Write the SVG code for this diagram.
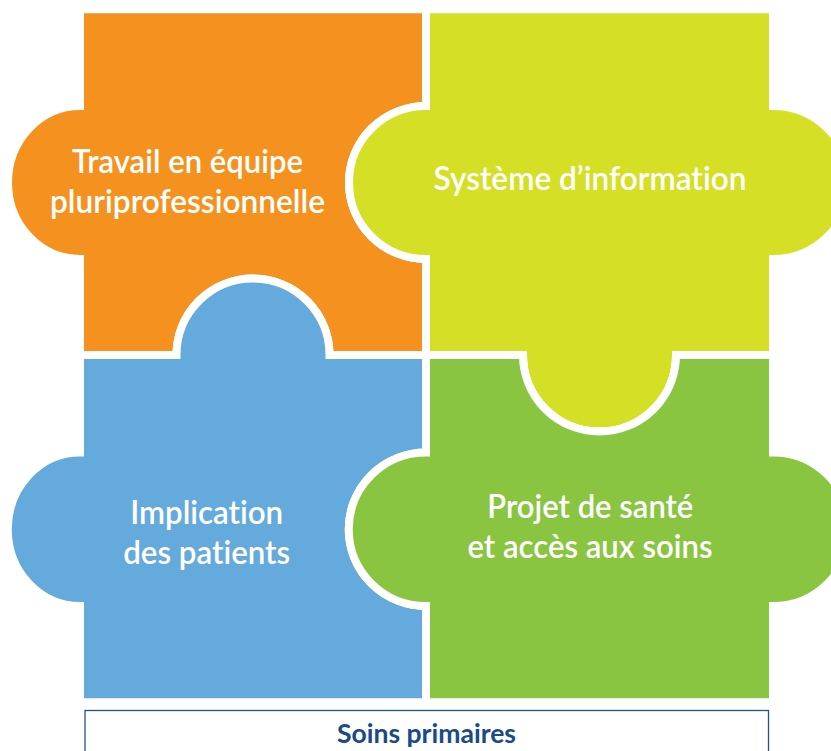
<svg xmlns="http://www.w3.org/2000/svg" width="831" height="751" viewBox="0 0 831 751">
<style>
.piece{stroke:#ffffff;stroke-width:8;stroke-linejoin:miter}
.lbl{font-family:Lato,"Open Sans","Liberation Sans",sans-serif;font-size:32px;font-weight:600;fill:#ffffff;text-anchor:middle;font-variant-ligatures:none}
.base{font-family:Lato,"Open Sans","Liberation Sans",sans-serif;font-size:27px;font-weight:bold;fill:#1B4A86;text-anchor:middle;font-variant-ligatures:none}
</style>
<rect width="831" height="751" fill="#ffffff"/>
<g id="orange">
<path class="piece" fill="#F5921F" d="M80,9.3 H426 V106 A77,76.5 0 0 0 426,259 V355 H329.5 A76.5,76.5 0 0 0 176.5,355 H80 V259 A72,76.5 0 0 1 80,106 Z"/>
<text class="lbl" x="187.5" y="173" textLength="231" lengthAdjust="spacingAndGlyphs">Travail en équipe</text>
<text class="lbl" x="187.5" y="213.3" textLength="275" lengthAdjust="spacingAndGlyphs">pluriprofessionnelle</text>
</g>
<g id="yellow">
<path class="piece" fill="#D5DF26" d="M426,9.3 H773 V106 A77,76.5 0 0 1 773,259 V355 H676 A76.5,76.5 0 0 1 523,355 H426 V259 A77,76.5 0 0 1 426,106 Z"/>
<text class="lbl" x="590" y="190" textLength="313" lengthAdjust="spacingAndGlyphs">Système d’information</text>
</g>
<g id="blue">
<path class="piece" fill="#65AADC" d="M80,355 H176.5 A76.5,76.5 0 0 1 329.5,355 H426 V452.5 A77,76.5 0 0 0 426,606 V702.3 H80 V606 A72,76.5 0 0 1 80,452.5 Z"/>
<text class="lbl" x="206.7" y="524" textLength="153" lengthAdjust="spacingAndGlyphs">Implication</text>
<text class="lbl" x="206.7" y="564" textLength="167" lengthAdjust="spacingAndGlyphs">des patients</text>
</g>
<g id="green">
<path class="piece" fill="#8AC541" d="M426,355 H523 A76.5,76.5 0 0 0 676,355 H773 V452.5 A77,76.5 0 0 1 773,606 V702.3 H426 V606 A77,76.5 0 0 1 426,452.5 Z"/>
<text class="lbl" x="590.3" y="518.3" textLength="206" lengthAdjust="spacingAndGlyphs">Projet de santé</text>
<text class="lbl" x="590" y="558.3" textLength="245" lengthAdjust="spacingAndGlyphs">et accès aux soins</text>
</g>
<g id="connectors"></g>
<g id="soins-primaires">
<rect x="85" y="710.5" width="683.5" height="60" fill="none" stroke="#1F5294" stroke-width="1.3"/>
<text class="base" x="426.5" y="743.3" textLength="179" lengthAdjust="spacingAndGlyphs">Soins primaires</text>
</g>
</svg>
